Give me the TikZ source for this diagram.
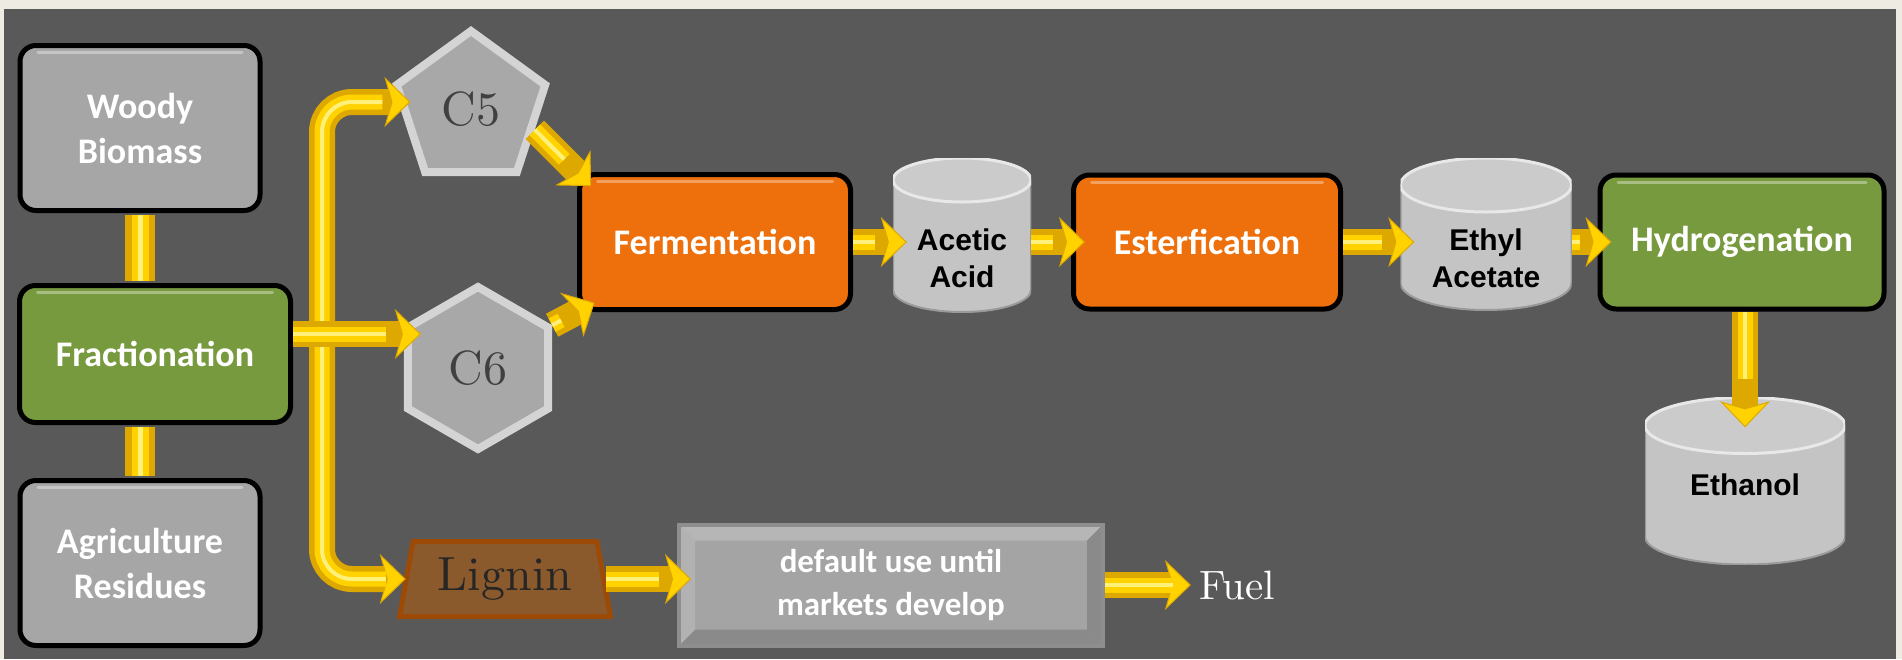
\documentclass[tikz,border=0pt]{standalone}
\usepackage{fontspec}
\newfontfamily\calibrifont{Carlito}
\newfontfamily\arialfont{Liberation Sans}
\newfontfamily\gonfont{lmroman10-regular.otf}
\usetikzlibrary{shapes.geometric,arrows.meta,calc}
\definecolor{bgbeige}{HTML}{EEEBE2}
\definecolor{panel}{HTML}{595959}
\definecolor{boxgray}{HTML}{A6A6A6}
\definecolor{boxgreen}{HTML}{789A3F}
\definecolor{boxorange}{HTML}{EE700C}
\definecolor{gongray}{HTML}{A8A8A8}
\definecolor{gonrim}{HTML}{D4D4D4}
\definecolor{gontext}{HTML}{404040}
\definecolor{tankbody}{HTML}{C4C4C4}
\definecolor{tanktop}{HTML}{CBCBCB}
\definecolor{tankrim}{HTML}{E8E8E8}
\definecolor{tankedge}{HTML}{9A9A9A}
\definecolor{ligninfill}{HTML}{8A5A2C}
\definecolor{ligninedge}{HTML}{9C4A06}
\definecolor{noteface}{HTML}{A4A4A4}
\definecolor{noteedge}{HTML}{8E8E8E}
\definecolor{notetop}{HTML}{B6B6B6}
\definecolor{noteside}{HTML}{8A8A8A}
\definecolor{pipegold}{HTML}{DDA800}
\definecolor{pipemid}{HTML}{FFD200}
\definecolor{pipelight}{HTML}{FFF07A}
\newcommand{\procfont}{\calibrifont\bfseries\fontsize{36}{45}\selectfont}
\newcommand{\notefont}{\calibrifont\bfseries\fontsize{33}{43}\selectfont}
\newcommand{\tankfont}{\arialfont\bfseries\fontsize{30}{37}\selectfont}
\begin{document}
\begin{tikzpicture}[x=1pt,y=-1pt,
	procbox/.style={rectangle,rounded corners=16pt,draw=black,line width=5pt,inner sep=0pt,text=white,align=center,font=\procfont,path picture={
		\draw[white,opacity=0.35,line width=3pt,line cap=round] ([xshift=18pt,yshift=-7pt]path picture bounding box.north west) -- ([xshift=-18pt,yshift=-7pt]path picture bounding box.north east);
	}},
	gonbox/.style={regular polygon,draw=gonrim,line width=8pt,fill=gongray,inner sep=0pt,text=gontext,font=\gonfont\fontsize{48}{58}\selectfont},
	tank/.style={rectangle,inner sep=0pt,path picture={
		\fill[tankbody,draw=tankedge,line width=2pt] let \p1=(path picture bounding box.west),\p2=(path picture bounding box.east),\n1={(\x2-\x1)/2} in ([yshift=-#1]path picture bounding box.north west) -- ([yshift=#1]path picture bounding box.south west) arc[start angle=180,end angle=360,x radius=\n1,y radius=#1] -- ([yshift=-#1]path picture bounding box.north east) -- cycle;
		\fill[tanktop,draw=tankrim,line width=3pt] let \p1=(path picture bounding box.west),\p2=(path picture bounding box.east),\n1={(\x2-\x1)/2} in ([yshift=-#1]path picture bounding box.north) ellipse[x radius=\n1,y radius=#1];
	}},
	tanktext/.style={align=center,text=black,font=\tankfont},
	notebox/.style={rectangle,draw=noteedge,line width=4pt,fill=noteface,inner sep=0pt,text=white,align=center,font=\notefont,path picture={
		\fill[notetop] (path picture bounding box.north west) -- (path picture bounding box.north east) -- ([xshift=-16pt,yshift=-16pt]path picture bounding box.north east) -- ([xshift=16pt,yshift=-16pt]path picture bounding box.north west) -- cycle;
		\fill[noteside] (path picture bounding box.south west) -- (path picture bounding box.south east) -- ([xshift=-16pt,yshift=16pt]path picture bounding box.south east) -- ([xshift=16pt,yshift=16pt]path picture bounding box.south west) -- cycle;
		\fill[noteside] (path picture bounding box.north east) -- (path picture bounding box.south east) -- ([xshift=-16pt,yshift=16pt]path picture bounding box.south east) -- ([xshift=-16pt,yshift=-16pt]path picture bounding box.north east) -- cycle;
		\fill[noteface!85!white] (path picture bounding box.north west) -- (path picture bounding box.south west) -- ([xshift=16pt,yshift=16pt]path picture bounding box.south west) -- ([xshift=16pt,yshift=-16pt]path picture bounding box.north west) -- cycle;
	}},
	pipe/.style={draw=pipegold,line width=26pt,-{Stealth[length=26pt,width=50pt,inset=7pt,line width=1pt,fill=pipemid]},shorten >=-14pt,postaction={draw=pipemid,line width=15pt,-,shorten >=18pt},postaction={draw=pipelight,line width=4pt,-,shorten >=18pt}},
	bar/.style={draw=pipegold,line width=30pt,shorten <=2pt,shorten >=2pt,postaction={draw=pipemid,line width=17pt},postaction={draw=pipelight,line width=5pt}}
	]
	\useasboundingbox (0,0) rectangle (1902,659);
	\fill[bgbeige] (0,0) rectangle (1902,659);
	\fill[panel] (4,9) rectangle (1896,659);
	\node[procbox,fill=boxgray,minimum width=240,minimum height=165] (woody) at (140,128) {Woody\\Biomass};
	\node[procbox,fill=boxgreen,minimum width=271,minimum height=137] (frac) at (155,354) {Fractionation};
	\node[procbox,fill=boxgray,minimum width=240,minimum height=165] (agri) at (140,563) {Agriculture\\Residues};
	\node[gonbox,regular polygon sides=5,minimum size=156] (c5) at (471,109) {C5};
	\node[gonbox,regular polygon sides=6,shape border rotate=30,minimum size=162] (c6) at (478,368) {C6};
	\node[procbox,fill=boxorange,minimum width=271,minimum height=135] (ferm) at (715,242) {Fermentation};
	\node[tank=22pt,minimum width=138,minimum height=154,label={[tanktext,yshift=-23pt]center:{Acetic\\Acid}}] (acetic) at (962,235) {};
	\node[procbox,fill=boxorange,minimum width=267,minimum height=134] (ester) at (1207,242) {Esterfication};
	\node[tank=27pt,minimum width=171,minimum height=152,label={[tanktext,yshift=-24pt]center:{Ethyl\\Acetate}}] (ethyl) at (1486,234) {};
	\node[procbox,fill=boxgreen,minimum width=284,minimum height=134] (hydro) at (1742,242) {Hydrogenation};
	\node[tank=28pt,minimum width=200,minimum height=167,label={[tanktext,yshift=-4pt]center:Ethanol}] (ethanol) at (1745,481) {};
	\node[trapezium,trapezium left angle=77,trapezium right angle=77,trapezium stretches=true,minimum width=211,minimum height=75,draw=ligninedge,line width=5pt,fill=ligninfill,inner sep=0pt,text=black!85,font=\gonfont\fontsize{48}{58}\selectfont] (lignin) at (505,579) {Lignin};
	\node[notebox,minimum width=424,minimum height=121] (default) at (891,585) {default use until\\markets develop};
	\node[text=white,inner sep=8pt,font=\gonfont\fontsize{41}{48}\selectfont] (fuel) at (1237,585) {Fuel};
	\draw[bar] (woody.south) -- (woody.south |- frac.north);
	\draw[bar] (agri.north) -- (agri.north |- frac.south);
	\coordinate (split) at ([xshift=29pt,yshift=20pt]frac.east);
	\draw[pipe,rounded corners=30pt,shorten >=-10pt] (split) |- ([yshift=7pt]c5.west);
	\draw[pipe,rounded corners=30pt,shorten >=-2pt] (split) |- (lignin.west);
	\draw[pipe,shorten >=-17pt] ([yshift=20pt]frac.east) -- ([yshift=20pt]frac.east -| c6.west);
	\draw[pipe,shorten >=-20pt] (c5.-18) -- (ferm.north west);
	\draw[pipe,shorten >=-20pt] (c6.30) -- (ferm.south west);
	\foreach \a/\b in {ferm/acetic,acetic/ester,ester/ethyl,ethyl/hydro}
		\draw[pipe] (\a.east |- ferm.east) -- (\b.west |- ferm.east);
	\draw[pipe,shorten >=-30pt] (hydro.south -| ethanol.north) -- (ethanol.north);
	\draw[pipe] (lignin.east) -- (lignin.east -| default.west);
	\draw[pipe,shorten >=0pt] (default.east) -- (fuel.west);
\end{tikzpicture}
\end{document}
